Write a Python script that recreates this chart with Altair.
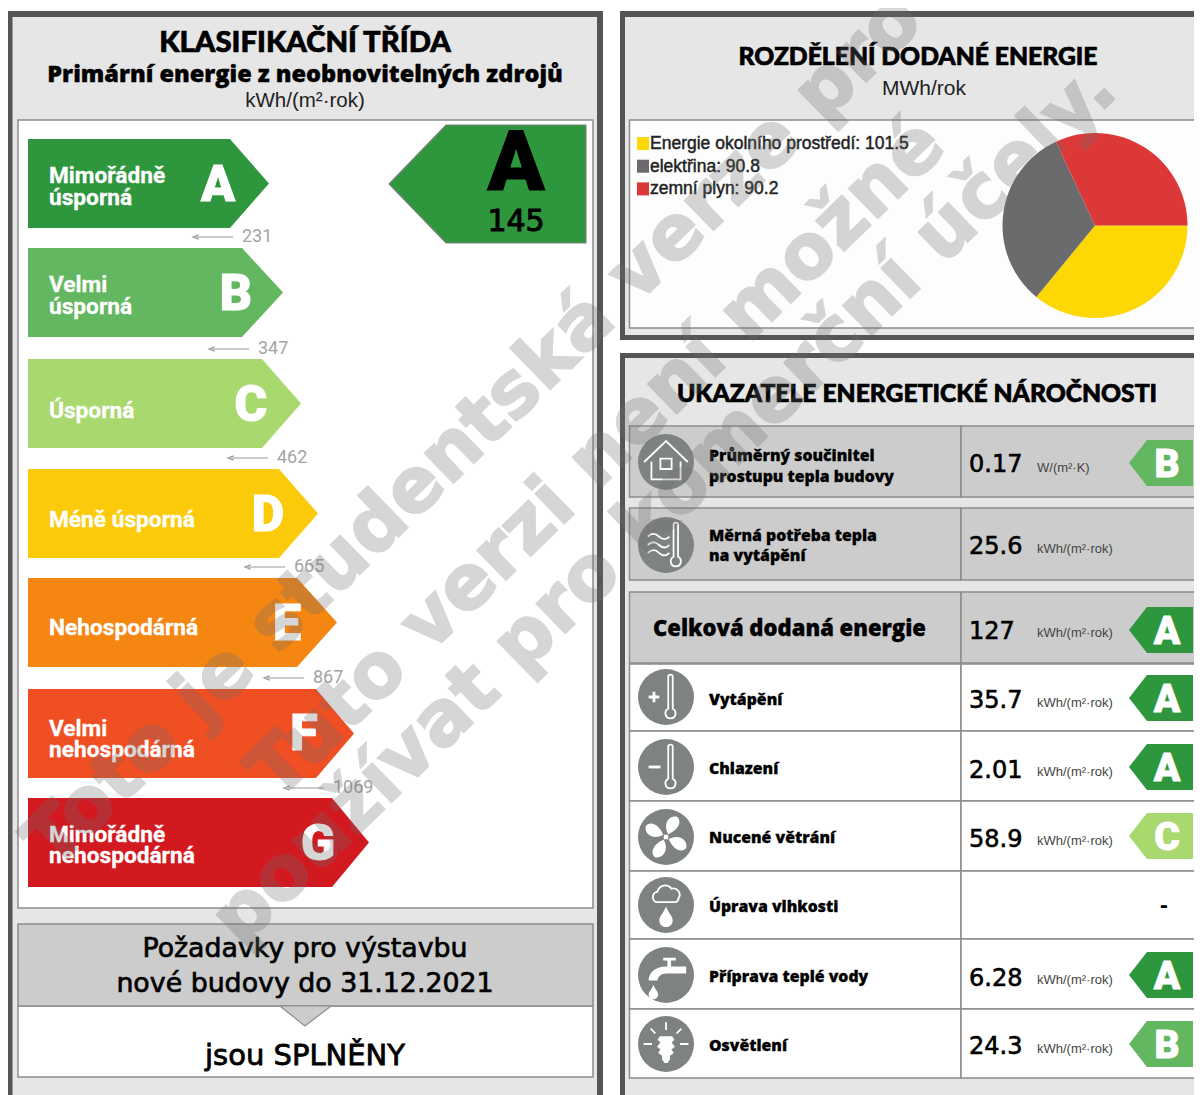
import math
import altair as alt
import pandas as pd

# ---- values ----
class_letters = ["A", "B", "C", "D", "E", "F", "G"]
class_names = [["Mimořádně", "úsporná"], ["Velmi", "úsporná"], ["Úsporná"], ["Méně úsporná"],
               ["Nehospodárná"], ["Velmi", "nehospodárná"], ["Mimořádně", "nehospodárná"]]
class_colors = ["#2e963d", "#62b760", "#a8d86e", "#fbca0a", "#f58612", "#f04e23", "#d2191f"]
class_limits = ["231", "347", "462", "665", "867", "1069"]
building_class = "A"
building_value = "145"
energy_names = ["Energie okolního prostředí", "elektřina", "zemní plyn"]
energy_values = [101.5, 90.8, 90.2]
energy_colors = ["#fdd805", "#6b6b6d", "#dd3838"]
row_labels = [["Průměrný součinitel", "prostupu tepla budovy"], ["Měrná potřeba tepla", "na vytápění"],
              ["Celková dodaná energie"], ["Vytápění"], ["Chlazení"], ["Nucené větrání"],
              ["Úprava vlhkosti"], ["Příprava teplé vody"], ["Osvětlení"]]
row_values = ["0.17", "25.6", "127", "35.7", "2.01", "58.9", "", "6.28", "24.3"]
row_units = ["W/(m²·K)", "kWh/(m²·rok)", "kWh/(m²·rok)", "kWh/(m²·rok)", "kWh/(m²·rok)",
             "kWh/(m²·rok)", "", "kWh/(m²·rok)", "kWh/(m²·rok)"]
row_classes = ["B", "", "A", "A", "A", "C", "", "A", "B"]
watermark = ["Toto je studentská verze pro", "Tuto verzi není možné", "používat pro komerční účely."]

# ---- page layout ----
XMIN, XMAX, YMIN, YMAX = 8, 1194, 8, 1095
xs = alt.Scale(domain=[XMIN, XMAX], range=[0, XMAX - XMIN], nice=False, zero=False)
ys = alt.Scale(domain=[YMIN, YMAX], range=[0, YMAX - YMIN], nice=False, zero=False)
X = alt.X("x:Q", scale=xs, axis=None)
Y = alt.Y("y:Q", scale=ys, axis=None)
DARK, PANEL, LINE, GREYBOX = "#555555", "#e6e6e6", "#8c8c8c", "#cccccc"
NONE = "transparent"

class_tops = [139, 248, 359, 469, 578, 689, 798]
class_shoulders = [230, 242, 262, 279, 297, 316, 332]
class_tips = [269, 283, 301, 318, 337, 354, 369]
class_letter_x = [218, 236, 251, 268, 287, 304, 318]
limit_y = [237, 349, 458, 567, 678, 788]
limit_x = [196, 212, 231, 248, 267, 287]
row_tops = [426, 508, 592, 664, 731, 801, 871, 939, 1009]
row_bots = [497, 580, 663, 731, 801, 871, 939, 1009, 1078]
row_cy = [463, 545, 630, 698, 767, 836, 905, 975, 1044]

rects = [
    (8, 603, 11, 1095, DARK, NONE), (12.5, 597, 17, 1095, PANEL, NONE),
    (18, 593, 120, 908, "#ffffff", LINE),
    (18, 593, 1006, 1077, "#ffffff", LINE), (18, 593, 924, 1006, GREYBOX, LINE),
    (620, 1202, 11, 340, DARK, NONE), (625, 1202, 17, 335, PANEL, NONE),
    (629.5, 1210, 120, 328, "#fcfdfc", LINE),
    (620, 1202, 353, 1095, DARK, NONE), (625, 1202, 358, 1095, PANEL, NONE),
]
for i, (t, b) in enumerate(zip(row_tops, row_bots)):
    fill = GREYBOX if i < 3 else "#ffffff"
    rects.append((629.5, 961, t, b, fill, LINE))
    rects.append((961, 1210, t, b, fill, LINE))
for i, c in enumerate(energy_colors):
    rects.append((637, 649, 137 + i * 22.7, 150 + i * 22.7, c, NONE))
rect_df = pd.DataFrame(rects, columns=["x", "x2", "y", "y2", "fill", "stroke"])
rect_layer = alt.Chart(rect_df).mark_rect(strokeWidth=1.5).encode(
    x=X, x2="x2:Q", y=Y, y2="y2:Q",
    fill=alt.Fill("fill:N", scale=None), stroke=alt.Stroke("stroke:N", scale=None))

# Arrow-shaped tags drawn as areas
verts = []
def tag_right(name, x0, xs_, xt, top, bot, fill, stroke=NONE):
    mid = (top + bot) / 2
    for x, a, b in [(x0, top, bot), (xs_, top, bot), (xt, mid, mid)]:
        verts.append(dict(tag=name, x=x, y=a, y2=b, fill=fill, stroke=stroke))
def tag_left(name, xt, xs_, x1, top, bot, fill, stroke=NONE):
    mid = (top + bot) / 2
    for x, a, b in [(xt, mid, mid), (xs_, top, bot), (x1, top, bot)]:
        verts.append(dict(tag=name, x=x, y=a, y2=b, fill=fill, stroke=stroke))

for i, L in enumerate(class_letters):
    tag_right("c" + L, 28, class_shoulders[i], class_tips[i], class_tops[i], class_tops[i] + 89, class_colors[i])
tag_left("main", 389, 446, 586, 125, 243, class_colors[class_letters.index(building_class)], "#808080")
for i, c in enumerate(row_classes):
    if c:
        tag_left(f"r{i}", 1129, 1147, 1193, row_cy[i] - 23, row_cy[i] + 23, class_colors[class_letters.index(c)])
for x, a, b in [(280, 1006, 1006), (305, 1006, 1026), (331, 1006, 1006)]:
    verts.append(dict(tag="pointer", x=x, y=a, y2=b, fill=GREYBOX, stroke=LINE))
tag_layer = alt.Chart(pd.DataFrame(verts)).mark_area(strokeWidth=1.2, line=False).encode(
    x=X, y=Y, y2="y2:Q", detail="tag:N",
    fill=alt.Fill("fill:N", scale=None), stroke=alt.Stroke("stroke:N", scale=None))

# Pie
pie_df = pd.DataFrame(dict(name=energy_names, value=energy_values, fill=energy_colors,
                           k=[0, 1, 2], x=[1095] * 3, y=[225.5] * 3))
pie_layer = alt.Chart(pie_df).mark_arc(radius=92.5).encode(
    x=X, y=Y,
    theta=alt.Theta("value:Q", stack=True,
                    scale=alt.Scale(domain=[0, sum(energy_values)], range=[math.pi / 2, math.pi * 2.5], nice=False)),
    order=alt.Order("k:Q"), fill=alt.Fill("fill:N", scale=None))

# Threshold arrows
rule_df = pd.DataFrame(dict(x=limit_x, x2=[v + 37 for v in limit_x], y=limit_y))
rule_layer = alt.Chart(rule_df).mark_rule(color="#9a9a9a", strokeWidth=1.2).encode(x=X, x2="x2:Q", y=Y)
head_layer = alt.Chart(rule_df).mark_point(filled=False, opacity=1, color="#9a9a9a", strokeWidth=1.2, size=36,
                                           shape="M0.9 -0.7L-1 0L0.9 0.7").encode(x=X, y=Y)

# Icons
def thermo(cx):
    return (f"M{cx-.08} .42V-.72A.08 .08 0 0 1 {cx+.08} -.72V.42A.18 .18 0 1 1 {cx-.08} .42Z")
def rot(px, py, k):
    for _ in range(k):
        px, py = -py, px
    return f"{px:.3f} {py:.3f}"
def blade(k):
    return ("M" + rot(.08, -.1, k) + "C" + rot(-.12, -.45, k) + " " + rot(.1, -.8, k) + " " + rot(.4, -.72, k)
            + "C" + rot(.62, -.5, k) + " " + rot(.35, -.2, k) + " " + rot(.08, -.1, k) + "Z")
icon_x = 666
icon_y = [462, 545, None, 697, 767, 837, 905, 975, 1044]
icon_outline = {
    0: "M-.78 0L0 -.75L.78 0M-.52 -.02V.62H.52V-.02M-.2 -.12H.2V.25H-.2Z",
    1: thermo(.35) + "M-.65 -.3Q-.45 -.5 -.25 -.3Q-.05 -.12 .12 -.3M-.65 0Q-.45 -.2 -.25 0Q-.05 .18 .12 0M-.65 .28Q-.45 .08 -.25 .28Q-.05 .46 .12 .28",
    3: thermo(.16),
    4: thermo(.16),
    6: "M-.35 -.1A.2 .2 0 0 1 -.3 -.48A.28 .28 0 0 1 .2 -.58A.22 .22 0 0 1 .45 -.25A.17 .17 0 0 1 .35 -.1Z",
    8: "M0 -.78V-.5M-.55 -.55L-.38 -.38M.55 -.55L.38 -.38M-.8 0H-.5M.8 0H.5",
}
icon_filled = {
    3: "M-.62 -.05H-.24V.05H-.62ZM-.48 -.19H-.38V.19H-.48Z",
    4: "M-.62 -.05H-.2V.05H-.62Z",
    5: "".join(blade(k) for k in range(4)) + "M-.08 -.08H.08V.08H-.08Z",
    6: "M0 .05C.1 .3 .24 .4 .24 .55A.24 .24 0 0 1 -.24 .55C-.24 .4 -.1 .3 0 .05Z",
    7: "M.72 -.3H0C-.35 -.3 -.62 -.1 -.62 .2H-.3C-.3 .05 -.15 -.05 0 -.05H.72ZM-.1 -.62H.35V-.52H.18V-.3H.05V-.52H-.1ZM-.45 .35C-.4 .5 -.28 .6 -.28 .7A.17 .17 0 0 1 -.62 .7C-.62 .6 -.5 .5 -.45 .35Z",
    8: "M-.22 -.28H.22L.3 -.15L.2 -.05L.32 .1L.2 .2L.28 .32L.14 .42V.55L.05 .68H-.05L-.14 .55V.42L-.28 .32L-.2 .2L-.32 .1L-.2 -.05L-.3 -.15Z",
}
circle_df = pd.DataFrame([dict(x=icon_x, y=v) for v in icon_y if v])
circle_layer = alt.Chart(circle_df).mark_circle(size=3136, opacity=1, color="#7f8282").encode(x=X, y=Y)
out_df = pd.DataFrame([dict(x=icon_x, y=icon_y[k], p=p) for k, p in icon_outline.items()])
fill_df = pd.DataFrame([dict(x=icon_x, y=icon_y[k], p=p) for k, p in icon_filled.items()])
out_layer = alt.Chart(out_df).mark_point(filled=False, opacity=1, color="#ffffff", strokeWidth=1.8, size=3136).encode(
    x=X, y=Y, shape=alt.Shape("p:N", scale=None))
fill_layer = alt.Chart(fill_df).mark_point(filled=True, opacity=1, color="#ffffff", size=3136).encode(
    x=X, y=Y, shape=alt.Shape("p:N", scale=None))

# Text
def text(rows, font, size, weight="normal", color="#000000", align="left", stroke=None, sw=0.0, angle=None, opacity=1, dy=2):
    kw = dict(font=font, fontSize=size, fontWeight=weight, color=color, align=align, baseline="middle", opacity=opacity, dy=dy)
    if stroke:
        kw.update(stroke=stroke, strokeWidth=sw)
    if angle is not None:
        kw.update(angle=angle)
    df = pd.DataFrame(rows, columns=["x", "y", "t"])
    return alt.Chart(df).mark_text(**kw).encode(x=X, y=Y, text="t:N")

HEAD = "Lato"
BODY = "Open Sans"
class_text = []
text_ys = [[175, 197], [284, 306], [410], [519], [627], [728, 749], [834, 855]]
for names, yy in zip(class_names, text_ys):
    class_text += [(49, y, n) for n, y in zip(names, yy)]
letter_ys = [184, 293, 404, 514, 623, 733, 843]
small_letters = [(1167, row_cy[i], c) for i, c in enumerate(row_classes) if c]
label_rows, big_rows = [], []
label_ys = [[455, 476], [535, 555], [628], [699], [768], [837], [906], [976], [1045]]
for i, (ls, yy) in enumerate(zip(row_labels, label_ys)):
    if i == 2:
        big_rows.append((653, yy[0], ls[0]))
    else:
        label_rows += [(709, y, n) for n, y in zip(ls, yy)]
value_ys = [463, 545, 630, 699, 769, 838, 906, 977, 1045]
unit_ys = [467, 548, 632, 702, 771, 840, 906, 979, 1048]

legend_rows = [(650, 142 + i * 22.7, f"{n}: {v}") for i, (n, v) in enumerate(zip(energy_names, energy_values))]

texts = [
    text([(305, 41, "KLASIFIKAČNÍ TŘÍDA")], HEAD, 29.3, 900, align="center", stroke="#000000", sw=0.7),
    text([(305, 73, "Primární energie z neobnovitelných zdrojů")], BODY, 23.5, 800, align="center", stroke="#000000", sw=0.4),
    text([(305, 99, "kWh/(m²·rok)")], "Liberation Sans", 20.5, color="#222222", align="center"),
    text([(918, 56, "ROZDĚLENÍ DODANÉ ENERGIE")], HEAD, 24.7, 900, align="center", stroke="#000000", sw=0.7),
    text([(924, 87, "MWh/rok")], "Liberation Sans", 21, color="#222222", align="center"),
    text([(917, 393, "UKAZATELE ENERGETICKÉ NÁROČNOSTI")], HEAD, 24.7, 900, align="center", stroke="#000000", sw=0.7),
    text(class_text, "Roboto", 22.7, 700, color="#ffffff", stroke="#ffffff", sw=0.3, dy=1),
    text([(x, y, L) for x, y, L in zip(class_letter_x, letter_ys, class_letters)], "Roboto", 50, 900,
         color="#ffffff", align="center", stroke="#ffffff", sw=1),
    text(small_letters, "Roboto", 39, 900, color="#ffffff", align="center", stroke="#ffffff", sw=0.8),
    text([(v + 46, y - 2, s) for v, y, s in zip(limit_x, limit_y, class_limits)], "Roboto", 18, color="#a4a4a4"),
    text([(516, 163, building_class)], "Roboto", 84, 900, align="center", stroke="#000000", sw=1),
    text([(516, 220, building_value)], "DejaVu Sans", 30, align="center", stroke="#000000", sw=1),
    text([(305, 947, "Požadavky pro výstavbu"), (305, 982, "nové budovy do 31.12.2021")],
         "DejaVu Sans", 26.8, align="center", stroke="#000000", sw=0.7),
    text([(305, 1054, "jsou SPLNĚNY")], "DejaVu Sans", 29, align="center", stroke="#000000", sw=0.8),
    text(legend_rows, "Liberation Sans", 17.5, color="#222222", stroke="#222222", sw=0.45),
    text(label_rows, BODY, 15.8, 800, stroke="#000000", sw=0.3, dy=1),
    text(big_rows, BODY, 22, 800, stroke="#000000", sw=0.35, dy=1),
    text([(969, y, v) for y, v in zip(value_ys, row_values) if v], "DejaVu Sans", 24, stroke="#000000", sw=0.6),
    text([(1037, y, u) for y, u in zip(unit_ys, row_units) if u], "Liberation Sans", 13, color="#444444", dy=1),
    text([(1164, 904, "-")], "DejaVu Sans", 20, 700, align="center"),
]

wm_df = [(38, 855, watermark[0]), (262, 785, watermark[1]), (225, 932, watermark[2])]
wm_layer = text(wm_df, "DejaVu Sans", 75.5, 700, color="#6e6e6e", angle=315.8, opacity=0.28, stroke="#6e6e6e", sw=2, dy=0)

chart = alt.layer(rect_layer, tag_layer, pie_layer, rule_layer, head_layer, circle_layer, out_layer, fill_layer,
                  *texts, wm_layer).properties(
    width=XMAX - XMIN, height=YMAX - YMIN, padding=0, background="#ffffff",
    autosize=alt.AutoSizeParams(type="none", contains="padding"),
).configure_view(stroke=None)

chart.save("out.html", embed_options={"renderer": "svg", "actions": False})
